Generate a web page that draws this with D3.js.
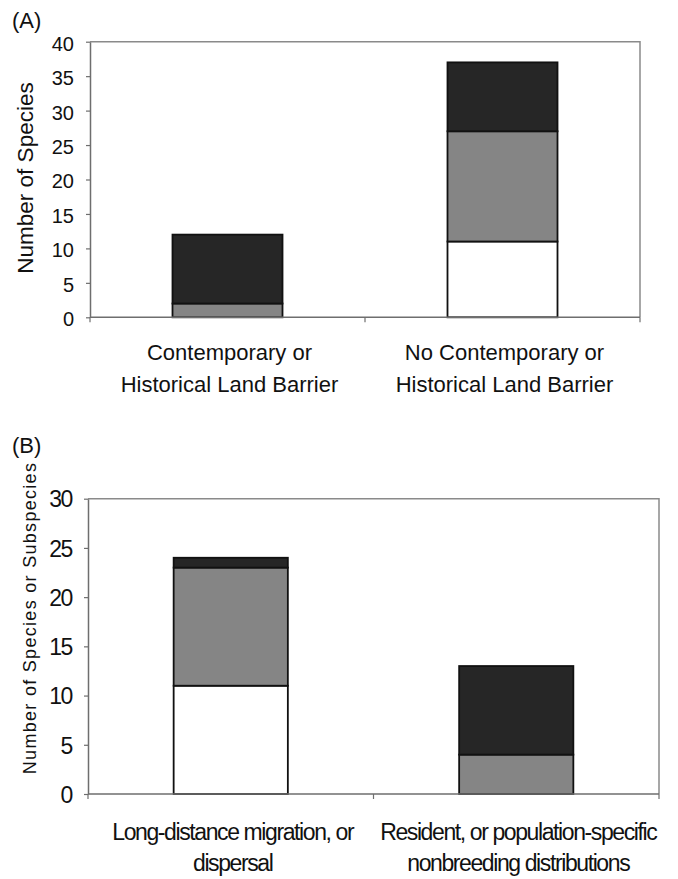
<!DOCTYPE html>
<html lang="en">
<head>
    <meta charset="UTF-8">
    <title>Stacked bars (A) and (B)</title>
    <script src="https://d3js.org/d3.v7.min.js"></script>
    <style>
        body { margin: 0; background: #fff; }
        svg { display: block; font-family: "Liberation Sans", Arial, sans-serif; }
    </style>
</head>
<body>
    <div id="chart"></div>

    <script>
        // Panel A data
        const catsA = ["Contemporary or|Historical Land Barrier", "No Contemporary or|Historical Land Barrier"];
        const whiteA = [0, 11];
        const greyA = [2, 16];
        const darkA = [10, 10];
        const ticksA = [0, 5, 10, 15, 20, 25, 30, 35, 40];

        // Panel B data
        const catsB = ["Long-distance migration, or|dispersal", "Resident, or population-specific|nonbreeding distributions"];
        const whiteB = [11, 0];
        const greyB = [12, 4];
        const darkB = [1, 9];
        const ticksB = [0, 5, 10, 15, 20, 25, 30];

        const keys = ["white", "grey", "dark"];
        const fills = { white: "#ffffff", grey: "#858585", dark: "#262626" };

        const svg = d3.select("#chart")
            .append("svg")
            .attr("width", 678)
            .attr("height", 879);

        function panel(opt) {
            const rows = opt.cats.map((c, i) => ({
                cat: c, white: opt.white[i], grey: opt.grey[i], dark: opt.dark[i]
            }));

            const x = d3.scaleBand()
                .domain(opt.cats)
                .range([opt.left, opt.right])
                .paddingInner(0.6)
                .paddingOuter(0.3);

            const y = d3.scaleLinear()
                .domain([0, d3.max(opt.ticks)])
                .range([opt.bottom, opt.top]);

            const g = svg.append("g");

            // frame (top and right)
            g.append("path")
                .attr("d", `M${opt.left},${opt.top}H${opt.right}V${opt.bottom}`)
                .attr("fill", "none")
                .attr("stroke", "#8a8a8a")
                .attr("stroke-width", 1.5);

            // stacked bars
            const series = d3.stack().keys(keys)(rows);
            g.selectAll("g.layer")
                .data(series)
                .join("g")
                .attr("class", "layer")
                .attr("fill", d => fills[d.key])
                .selectAll("rect")
                .data(d => d.filter(s => s[1] > s[0]))
                .join("rect")
                .attr("x", d => x(d.data.cat))
                .attr("width", x.bandwidth())
                .attr("y", d => y(d[1]))
                .attr("height", d => y(d[0]) - y(d[1]))
                .attr("stroke", "#111")
                .attr("stroke-width", 1.8);

            // y axis
            const yAxis = g.append("g")
                .attr("transform", `translate(${opt.left},0)`)
                .call(d3.axisLeft(y).tickValues(opt.ticks).tickSize(4).tickPadding(opt.tickPad).tickSizeOuter(0));
            yAxis.select(".domain").attr("stroke", "#6e6e6e").attr("stroke-width", 1.5);
            yAxis.selectAll(".tick line").attr("stroke", "#6e6e6e").attr("stroke-width", 1.2);
            yAxis.selectAll(".tick text")
                .attr("fill", "#111")
                .attr("dy", opt.tickDy)
                .style("font-size", opt.tickSize + "px")
                .style("letter-spacing", opt.tracking + "px");

            // x axis: boundary ticks between categories
            const xb = g.append("g")
                .attr("transform", `translate(0,${opt.bottom})`);
            xb.append("line")
                .attr("x1", opt.left).attr("x2", opt.right)
                .attr("stroke", "#6e6e6e").attr("stroke-width", 1.5);
            const bounds = [opt.left, (opt.left + opt.right) / 2, opt.right];
            xb.selectAll("line.tk")
                .data(bounds)
                .join("line")
                .attr("class", "tk")
                .attr("x1", d => d).attr("x2", d => d)
                .attr("y1", 0).attr("y2", 5)
                .attr("stroke", "#6e6e6e").attr("stroke-width", 1.2);

            // category labels
            const lab = g.selectAll("text.cat")
                .data(opt.cats)
                .join("text")
                .attr("class", "cat")
                .attr("text-anchor", "middle")
                .attr("fill", "#111")
                .style("font-size", opt.labelSize + "px")
                .style("letter-spacing", opt.tracking + "px");
            lab.each(function (c) {
                const t = d3.select(this);
                c.split("|").forEach((line, i) => {
                    t.append("tspan")
                        .attr("x", x(c) + x.bandwidth() / 2 + opt.labelShift)
                        .attr("y", opt.labelY[i])
                        .text(line);
                });
            });

            // y title
            g.append("text")
                .attr("transform", `translate(${opt.titleX},${opt.titleY}) rotate(-90)`)
                .attr("text-anchor", "middle")
                .attr("fill", "#111")
                .style("font-size", opt.titleSize + "px")
                .style("letter-spacing", opt.titleTracking + "px")
                .text(opt.title);

            // panel letter
            g.append("text")
                .attr("x", 12)
                .attr("y", opt.letterY)
                .attr("fill", "#111")
                .style("font-size", "22px")
                .text(opt.letter);
        }

        panel({
            cats: catsA, white: whiteA, grey: greyA, dark: darkA, ticks: ticksA,
            left: 90, right: 640, top: 41.7, bottom: 317.3,
            tickPad: 12, tickDy: "0.42em", tickSize: 20, tracking: 0,
            labelSize: 22, labelY: [360, 391.5], labelShift: 2,
            title: "Number of Species", titleX: 33, titleY: 178, titleSize: 22.5, titleTracking: 0,
            letter: "(A)", letterY: 28
        });

        panel({
            cats: catsB, white: whiteB, grey: greyB, dark: darkB, ticks: ticksB,
            left: 88, right: 659, top: 498.7, bottom: 794,
            tickPad: 12, tickDy: "0.36em", tickSize: 23, tracking: -1.4,
            labelSize: 23, labelY: [840, 871], labelShift: 2,
            title: "Number of Species or Subspecies", titleX: 36, titleY: 618, titleSize: 18, titleTracking: 1.3,
            letter: "(B)", letterY: 453
        });
    </script>
</body>
</html>
